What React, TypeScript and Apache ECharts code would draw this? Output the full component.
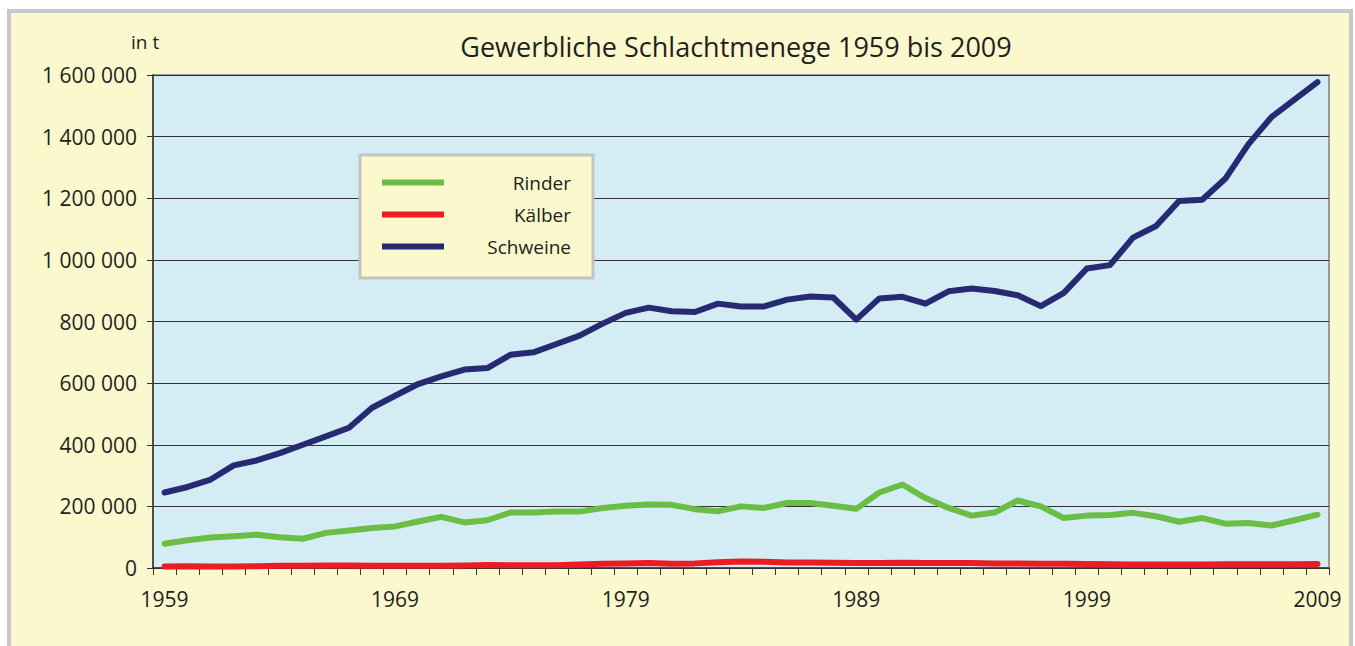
import React, { useEffect, useRef } from "react";
import * as echarts from "echarts";

const years = [
  "1959","1960","1961","1962","1963","1964","1965","1966","1967","1968",
  "1969","1970","1971","1972","1973","1974","1975","1976","1977","1978",
  "1979","1980","1981","1982","1983","1984","1985","1986","1987","1988",
  "1989","1990","1991","1992","1993","1994","1995","1996","1997","1998",
  "1999","2000","2001","2002","2003","2004","2005","2006","2007","2008",
  "2009",
];

const rinder = [
  79000, 90000, 99000, 103000, 108000, 100000, 95000, 114000, 122000, 130000,
  135000, 151000, 166000, 148000, 155000, 180000, 180000, 183000, 183000, 195000,
  202000, 206000, 205000, 191000, 184000, 200000, 195000, 211000, 211000, 202000,
  192000, 245000, 271000, 227000, 195000, 170000, 180000, 219000, 200000, 162000,
  170000, 172000, 179000, 168000, 150000, 162000, 144000, 146000, 138000, 155000,
  173000,
];

const kaelber = [
  5000, 6000, 5000, 5000, 6000, 7000, 7000, 8000, 8000, 7000,
  7000, 7000, 7000, 8000, 10000, 9000, 9000, 9000, 11000, 14000,
  15000, 16000, 14000, 15000, 19000, 21000, 20000, 18000, 18000, 17000,
  16000, 16000, 17000, 16000, 16000, 16000, 15000, 15000, 14000, 14000,
  13000, 12000, 11000, 11000, 11000, 11000, 12000, 12000, 12000, 12000,
  13000,
];

const schweine = [
  245000, 263000, 287000, 333000, 349000, 373000, 400000, 427000, 455000, 520000,
  559000, 597000, 622000, 644000, 649000, 692000, 700000, 727000, 754000, 793000,
  828000, 845000, 833000, 831000, 858000, 849000, 849000, 871000, 881000, 878000,
  806000, 875000, 880000, 858000, 898000, 907000, 899000, 885000, 850000, 893000,
  972000, 983000, 1072000, 1110000, 1191000, 1195000, 1263000, 1375000, 1463000, 1520000,
  1577000,
];

const seriesNames = ["Rinder", "Kälber", "Schweine"];
const seriesColors = ["#6bbd45", "#ed1c24", "#262a73"];

const FONT = "'Open Sans', 'Noto Sans', sans-serif";
const TXT = "#231f20";

function fmt(v: number): string {
  return String(v).replace(/\B(?=(\d{3})+(?!\d))/g, " ");
}

export default function App() {
  const ref = useRef<HTMLDivElement>(null);
  useEffect(() => {
    if (!ref.current) return;
    const chart = echarts.init(ref.current, undefined, { renderer: "svg" });
    const data = [rinder, kaelber, schweine];
    chart.setOption({
      animation: false,
      backgroundColor: "#ffffff",
      textStyle: { fontFamily: FONT },
      graphic: [
        {
          type: "rect",
          z: -10,
          shape: { x: 9, y: 11, width: 1342, height: 660 },
          style: { fill: "#fbf8cd", stroke: "#c8c8ca", lineWidth: 4 },
        },
        {
          type: "text",
          left: 131,
          top: 32,
          style: { text: "in t", fontSize: 19, fill: TXT, fontFamily: FONT },
        },
      ],
      title: {
        text: "Gewerbliche Schlachtmenege 1959 bis 2009",
        left: 731,
        textAlign: "center",
        top: 28,
        textStyle: { fontSize: 27, fontWeight: "normal", color: TXT, fontFamily: FONT },
      },
      legend: {
        orient: "vertical",
        left: 360,
        top: 155,
        padding: [18, 22, 22, 22],
        backgroundColor: "#fbf8cd",
        borderColor: "#c3c3c3",
        borderWidth: 3,
        borderRadius: 0,
        itemWidth: 62,
        itemHeight: 6,
        itemGap: 13,
        icon: "rect",
        data: seriesNames,
        formatter: (name: string) => `{a|${name}}`,
        textStyle: {
          rich: {
            a: {
              width: 122,
              align: "right",
              fontSize: 19,
              lineHeight: 20,
              color: TXT,
              fontFamily: FONT,
            },
          },
        },
      },
      grid: {
        left: 153,
        right: 26,
        top: 75,
        bottom: 78,
        show: true,
        backgroundColor: "#d4ecf3",
        borderColor: "#9a9a9a",
        borderWidth: 2,
      },
      xAxis: {
        type: "category",
        data: years,
        boundaryGap: true,
        axisLine: { show: true, lineStyle: { color: "#333", width: 1.5 } },
        axisTick: { show: true, interval: 0, length: 7, lineStyle: { color: "#333" } },
        axisLabel: { interval: 9, fontSize: 21, color: TXT, margin: 20, fontFamily: FONT },
        splitLine: { show: false },
      },
      yAxis: {
        type: "value",
        min: 0,
        max: 1600000,
        interval: 200000,
        axisLine: { show: true, lineStyle: { color: "#333", width: 1.5 } },
        axisTick: { show: true, length: 6, lineStyle: { color: "#333" } },
        axisLabel: {
          fontSize: 21,
          color: TXT,
          margin: 16,
          fontFamily: FONT,
          formatter: (v: number) => fmt(v),
        },
        splitLine: { show: true, lineStyle: { color: "#333", width: 1 } },
      },
      series: seriesNames.map((name, i) => ({
        name,
        type: "line",
        data: data[i],
        symbol: "none",
        smooth: false,
        color: seriesColors[i],
        lineStyle: { width: 6, color: seriesColors[i], cap: "round", join: "round" },
        z: 3 + i,
      })),
    });
    return () => chart.dispose();
  }, []);
  return (
    <div
      ref={ref}
      style={{ position: "absolute", left: 0, top: 0, width: 1355, height: 646 }}
    />
  );
}
